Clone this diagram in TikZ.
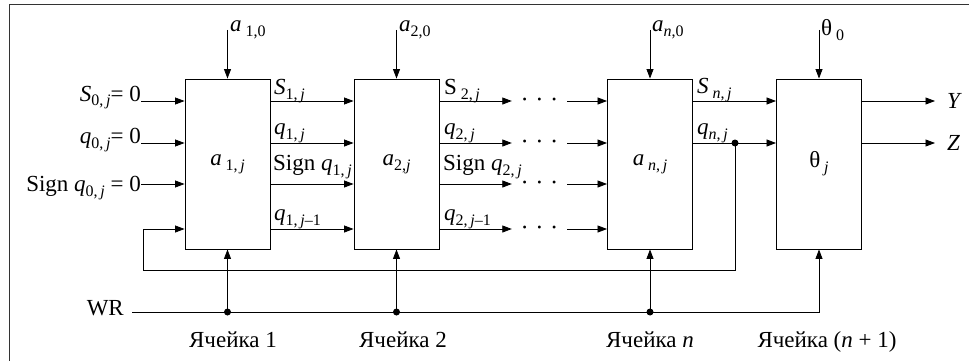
\documentclass[tikz,border=0pt]{standalone}
\usepackage{fontspec}
\setmainfont{Liberation Serif}
\usetikzlibrary{arrows.meta,positioning}
\tikzset{
  cellnode/.style={rectangle,draw,line width=0.9pt,minimum width=85pt,minimum height=170pt,inner sep=0pt},
  sigarrow/.style={-{Triangle[length=9.5pt,width=7pt]},line width=0.8pt},
  joindot/.style={circle,fill,inner sep=0pt,minimum size=7pt},
  inlabel/.style={anchor=base east,inner sep=0pt},
  outlabel/.style={anchor=base west,inner sep=0pt},
  toplabel/.style={anchor=west,inner sep=0pt},
  dotsnode/.style={minimum width=55pt,inner sep=0pt},
  celltag/.style={anchor=base,inner sep=0pt}
}
\newcommand{\sbs}[1]{\raisebox{-5pt}{\fontsize{16}{16}\selectfont #1}}
\newcommand{\dotrow}{{\fontsize{12}{12}\selectfont\textbullet\hspace{10.5pt}\textbullet\hspace{10.5pt}\textbullet}}

\begin{document}
\begin{tikzpicture}[x=1pt,y=-1pt,font=\fontsize{23}{26}\selectfont]
  \useasboundingbox (0,0) rectangle (969,361);
  \draw[line width=1pt,black!80] (9.5,361) -- (9.5,5) -- (969,5);
  \coordinate (r1) at (0,101);
  \coordinate (r2) at (0,143);
  \coordinate (r3) at (0,184);
  \coordinate (r4) at (0,229);
  \coordinate (rw) at (0,312);
  \coordinate (lp) at (143,270);
  \node[cellnode] (c1) at (227.5,164) {\textit{a}\,\sbs{1,\,\textit{j}}};
  \node[cellnode] (c2) at (396.5,164) {\textit{a}\sbs{2,\textit{j}}};
  \node[cellnode] (cn) at (650,164) {\textit{a}\,\sbs{\textit{n},\,\textit{j}}};
  \node[cellnode] (ct) at (819,164) {θ\,\sbs{\textit{j}}};
  \node[toplabel] (t1) at (230,30) {\textit{a}\,\sbs{1,0}};
  \node[toplabel] (t2) at (399,30) {\textit{a}\sbs{2,0}};
  \node[toplabel] (tn) at (652,30) {\textit{a}\sbs{\textit{n},0}};
  \node[toplabel] (tt) at (821,30) {θ\,\sbs{0}};
  \draw[sigarrow] (c1.north |- t1.west) -- (c1.north);
  \draw[sigarrow] (c2.north |- t2.west) -- (c2.north);
  \draw[sigarrow] (cn.north |- tn.west) -- (cn.north);
  \draw[sigarrow] (ct.north |- tt.west) -- (ct.north);
  \node[inlabel] (s0) at (141,101) {\textit{S}\sbs{0,\,\textit{j}}= 0};
  \node[inlabel] (q0) at (141,143) {\textit{q}\sbs{0,\,\textit{j}}= 0};
  \node[inlabel] (g0) at (141,191) {Sign \textit{q}\sbs{0,\,\textit{j}} = 0};
  \draw[sigarrow] (s0.east |- r1) -- (c1.west |- r1);
  \draw[sigarrow] (q0.east |- r2) -- (c1.west |- r2);
  \draw[sigarrow] (g0.east |- r3) -- (c1.west |- r3);
  \node[outlabel] (s1) at (274,95) {\textit{S}\sbs{1,\,\textit{j}}};
  \node[outlabel] (q1) at (274,134) {\textit{q}\sbs{1,\,\textit{j}}};
  \node[outlabel] (g1) at (273,170) {Sign \textit{q}\sbs{1,\,\textit{j}}};
  \node[outlabel] (p1) at (274,220) {\textit{q}\sbs{1,\,\textit{j}–1}};
  \foreach \r in {r1,r2,r3,r4}
    \draw[sigarrow] (c1.east |- \r) -- (c2.west |- \r);
  \node[outlabel] (s2) at (444,95) {S\,\sbs{2,\,\textit{j}}};
  \node[outlabel] (q2) at (444,134) {\textit{q}\sbs{2,\,\textit{j}}};
  \node[outlabel] (g2) at (443,170) {Sign \textit{q}\sbs{2,\,\textit{j}}};
  \node[outlabel] (p2) at (444,220) {\textit{q}\sbs{2,\,\textit{j}–1}};
  \foreach \k/\y in {1/101,2/143,3/184,4/229} {
    \node[dotsnode] (dd\k) at (539.5,\y) {\dotrow};
    \draw[sigarrow] (c2.east |- dd\k) -- (dd\k.west);
    \draw[sigarrow] (dd\k.east) -- (cn.west |- dd\k);
  }
  \node[outlabel] (sn) at (697,93) {\textit{S}\,\sbs{\textit{n},\,\textit{j}}};
  \node[outlabel] (qn) at (697,134) {\textit{q}\sbs{\textit{n},\,\textit{j}}};
  \draw[sigarrow] (cn.east |- r1) -- (ct.west |- r1);
  \draw[sigarrow] (cn.east |- r2) -- (ct.west |- r2);
  \node[joindot] (qj) at (735,143) {};
  \draw[sigarrow] (qj.center) |- (lp) |- (c1.west |- r4);
  \node[anchor=west,inner sep=0pt] (yo) at (947,101) {\textit{Y}};
  \node[anchor=west,inner sep=0pt] (zo) at (947,143) {\textit{Z}};
  \draw[sigarrow] (ct.east |- yo) -- ([xshift=-12pt]yo.west);
  \draw[sigarrow] (ct.east |- zo) -- ([xshift=-12pt]zo.west);
  \node[anchor=base east,inner xsep=8pt,inner ysep=0pt] (wr) at (132,315) {WR};
  \draw[sigarrow] (wr.east |- rw) -| (ct.south);
  \foreach \c in {c1,c2,cn} {
    \node[joindot] (w\c) at (\c.south |- rw) {};
    \draw[sigarrow] (w\c.center) -- (\c.south);
  }
  \node[celltag] (k1) at (233,347) {Ячейка 1};
  \node[celltag] (k2) at (403,347) {Ячейка 2};
  \node[celltag] (kn) at (650,347) {Ячейка \textit{n}};
  \node[celltag] (kt) at (827,347) {Ячейка (\textit{n} + 1)};
\end{tikzpicture}
\end{document}
